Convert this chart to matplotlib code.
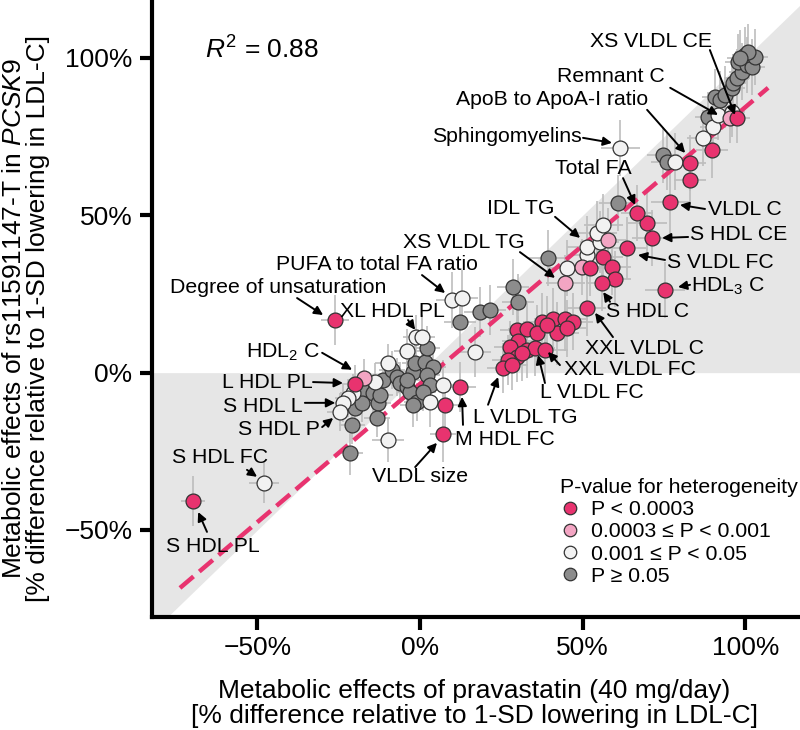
import numpy as np
import matplotlib.pyplot as plt
from matplotlib.lines import Line2D
from matplotlib.ticker import FuncFormatter

plt.rcParams['font.family'] = ['Liberation Sans', 'DejaVu Sans']
plt.rcParams['mathtext.fontset'] = 'custom'
plt.rcParams['mathtext.rm'] = 'Liberation Sans'
plt.rcParams['mathtext.it'] = 'Liberation Sans:italic'

# ---- data (% difference relative to 1-SD lowering in LDL-C) ----
# P < 0.0003
x_pink = [-69.8, -26.1, -20.0, 12.3, 7.7, 7.1,
          37.5, 41.0, 44.6, 47.1, 29.7, 33.0, 35.9, 42.0, 45.1, 38.9,
          30.2, 27.7, 32.8, 35.4, 38.4, 29.7, 27.1, 25.6, 28.2, 31.3, 51.2,
          56.3, 59.0, 59.9, 55.9, 52.3, 63.6, 71.3, 69.8, 66.7, 76.9, 75.3,
          83.0, 83.0, 89.8, 97.4]
y_pink = [-40.8, 16.8, -3.6, -4.5, -10.2, -19.4,
          16.2, 17.0, 17.0, 16.2, 13.6, 13.8, 12.5, 12.5, 14.1, 15.2,
          9.9, 8.3, 7.2, 7.8, 7.2, 5.1, 4.0, 1.4, 2.4, 6.2, 20.5,
          36.8, 33.6, 29.8, 28.5, 33.3, 39.6, 42.8, 47.6, 50.7, 54.2, 26.3,
          66.6, 61.2, 70.8, 80.9]
xerr_pink = [3.8, 4.3, 4.0, 5.0, 5.0, 4.0,
             6, 6, 7, 6, 5, 6, 6, 7, 6, 6,
             5, 5, 6, 6, 7, 5, 5, 5, 5, 6, 6,
             6, 6, 5, 5, 6, 6, 6, 6, 5, 6, 6,
             5, 5, 5, 4]
yerr_pink = [7.8, 8.0, 6.0, 8.0, 8.0, 9.0,
             9, 10, 10, 9, 8, 9, 9, 10, 9, 9,
             8, 8, 9, 9, 10, 8, 8, 8, 8, 9, 9,
             10, 9, 9, 9, 9, 10, 9, 10, 9, 10, 9,
             9, 9, 9, 8]

# 0.0003 <= P < 0.001
x_lpink = [-17.2, 44.6, 49.8, 57.8, 95.3]
y_lpink = [-1.7, 28.5, 33.6, 42.2, 80.9]
xerr_lpink = [4, 6, 6, 6, 4]
yerr_lpink = [6, 9, 9, 10, 8]

# 0.001 <= P < 0.05
x_white = [-48.0, -9.8, -13.8, -20.6, -22.1, -23.7, -24.6, -9.8, -4.0, -1.2,
           0.6, 7.1, 3.1, 9.8, 12.9, 16.9, 45.2, 51.3, 51.3, 55.3,
           54.4, 56.3, 61.5, 78.4, 87.0, 90.1, 91.6, 95.9]
y_white = [-35.0, 3.1, -2.9, -6.4, -8.0, -9.6, -12.5, -21.4, 6.9, 11.3,
           11.3, -3.9, -9.3, 23.1, 23.7, 6.6, 33.3, 37.4, 39.9, 41.5,
           44.4, 46.9, 71.4, 67.0, 74.6, 78.1, 81.9, 82.8]
xerr_white = [4.5, 4, 4, 4, 4, 4, 4, 5, 4, 4,
              4, 5, 5, 5, 5, 5, 6, 6, 6, 6,
              6, 6, 6, 5, 5, 4, 4, 4]
yerr_white = [6.5, 6, 6, 6, 6, 6, 6, 7, 7, 7,
              7, 8, 8, 9, 9, 8, 9, 9, 10, 10,
              10, 10, 9, 9, 9, 8, 8, 8]

# P >= 0.05
x_gray = [-21.5, -20.9, -17.8, -14.4, -20.0, -17.8, -12.9, -13.2, -12.3, -11.4,
          -8.6, -7.1, -6.1, -4.0, -3.1, -0.9, -2.2, -1.5, 1.5, 4.0,
          2.2, 3.1, 2.2, -4.0, 0.9, -2.2, 12.3, 18.4, 21.5, 28.6,
          30.1, 39.3, 60.9, 74.7, 75.9, 88.5, 90.7, 92.2, 93.8, 95.9,
          96.2, 97.4, 99.0, 97.8, 100.5, 102.1, 99.9, 103.0, 100.8, 98.4]
y_gray = [-25.5, -16.6, -5.5, -6.4, -11.2, -9.6, -9.6, -14.4, -7.1, -2.3,
          0.9, -1.3, -3.3, -4.5, -6.1, -9.3, 0.2, 3.1, 3.4, 1.8,
          -0.7, -3.9, 7.9, -2.3, -6.1, -10.2, 16.1, 19.3, 19.9, 27.2,
          22.4, 36.4, 53.9, 69.2, 67.0, 81.2, 87.6, 86.7, 88.3, 90.5,
          92.1, 93.7, 95.6, 98.7, 97.8, 97.1, 100.9, 100.3, 101.9, 100.0]
xerr_gray = [4, 4, 4, 4, 4, 4, 4, 4, 4, 4,
             4, 4, 4, 4, 4, 4, 4, 4, 4, 4,
             4, 4, 4, 4, 4, 4, 5, 5, 5, 5,
             5, 6, 6, 5, 5, 4, 4, 4, 4, 4,
             4, 4, 4, 4, 4, 4, 4, 4, 4, 4]
yerr_gray = [7, 6, 6, 6, 6, 6, 6, 6, 6, 6,
             6, 6, 6, 6, 6, 6, 6, 6, 6, 6,
             6, 6, 7, 6, 6, 7, 8, 8, 8, 9,
             9, 9, 9, 9, 9, 8, 9, 9, 9, 9,
             9, 9, 9, 9, 9, 9, 9, 9, 9, 9]

# regression line
fit_slope = 0.879
fit_intercept = -3.55
fit_range = [-73.8, 107.0]

legend_labels = ['P < 0.0003', '0.0003 \u2264 P < 0.001', '0.001 \u2264 P < 0.05', 'P \u2265 0.05']

# label, text (x, y), arrow tail (x, y), arrow tip (x, y)
labels = [
    ('XS VLDL CE', (71.0, 105.1), (89.1, 102.5), (96.8, 81.9)),
    ('Remnant C', (58.7, 94.0), (76.9, 90.5), (91.6, 81.9)),
    ('ApoB to ApoA-I ratio', (40.6, 86.7), (69.8, 83.5), (81.5, 69.8)),
    ('Sphingomyelins', (26.7, 74.9), (50.1, 74.6), (59.0, 73.0)),
    ('Total FA', (53.2, 65.0), (62.4, 61.8), (66.1, 53.3)),
    ('VLDL C', (99.9, 51.7), (87.6, 52.0), (79.9, 53.3)),
    ('S HDL CE', (97.8, 43.8), (82.4, 43.1), (74.4, 42.8)),
    ('S VLDL FC', (92.2, 34.9), (75.3, 35.8), (67.0, 37.4)),
    ('HDL$_\\mathregular{3}$ C', (94.7, 27.3), (83.0, 27.9), (79.3, 27.2)),
    ('S HDL C', (69.8, 19.3), (58.4, 22.5), (56.3, 25.6)),
    ('XXL VLDL C', (68.9, 7.8), (59.3, 11.3), (53.8, 19.0)),
    ('XXL VLDL FC', (64.6, 0.9), (43.0, 2.4), (39.3, 6.6)),
    ('L VLDL FC', (52.9, -6.4), (38.4, -3.3), (36.3, 5.6)),
    ('L VLDL TG', (32.3, -14.1), (20.9, -10.2), (24.0, -1.4)),
    ('M HDL FC', (26.1, -21.4), (13.2, -16.6), (12.9, -7.7)),
    ('VLDL size', (0.0, -33.1), (-1.5, -30.0), (5.2, -22.3)),
    ('IDL TG', (31.0, 52.3), (41.5, 49.5), (49.2, 42.8)),
    ('XS VLDL TG', (13.5, 41.2), (30.7, 38.3), (41.5, 30.1)),
    ('PUFA to total FA ratio', (-13.4, 34.2), (0.6, 31.0), (7.7, 25.3)),
    ('Degree of unsaturation', (-43.7, 26.9), (-37.8, 23.7), (-29.8, 18.3)),
    ('XL HDL PL', (-8.6, 19.3), (-3.7, 16.7), (-1.5, 13.6)),
    ('HDL$_\\mathregular{2}$ C', (-42.1, 6.6), (-30.1, 6.3), (-20.9, 0.9)),
    ('L HDL PL', (-47.0, -3.1), (-32.9, -3.0), (-23.7, -3.3)),
    ('S HDL L', (-48.3, -10.9), (-35.4, -9.6), (-26.1, -9.6)),
    ('S HDL P', (-43.3, -18.2), (-30.1, -17.3), (-26.7, -14.4)),
    ('S HDL FC', (-61.5, -27.1), (-53.2, -30.9), (-50.1, -33.1)),
    ('S HDL PL', (-63.6, -55.4), (-65.5, -50.6), (-68.2, -44.3)),
]

pink = '#e8336f'
lpink = '#f3a5c3'
white = '#f2f2f2'
gray = '#8c8c8c'

fig = plt.figure(figsize=(8, 7.3), dpi=100)
ax = fig.add_axes([0.19, 0.155, 0.81, 0.845])
ax.set_xlim(-82.4, 116.8)
ax.set_ylim(-77.6, 118.4)

xs = np.array([-90, 0, 130])
ax.fill_between(xs, 0, xs, color='#e6e6e6', lw=0, zorder=0)

groups = [
    (x_gray, y_gray, xerr_gray, yerr_gray, gray),
    (x_white, y_white, xerr_white, yerr_white, white),
    (x_lpink, y_lpink, xerr_lpink, yerr_lpink, lpink),
    (x_pink, y_pink, xerr_pink, yerr_pink, pink),
]
for gx, gy, gxe, gye, c in groups:
    ax.errorbar(gx, gy, xerr=gxe, yerr=gye, fmt='none', ecolor='#bdbdbd',
                elinewidth=1.2, capsize=0, zorder=1)
for gx, gy, gxe, gye, c in groups:
    ax.scatter(gx, gy, s=115, color=c, edgecolor='#333333', linewidth=0.9, zorder=3)

fx = np.array(fit_range)
ax.plot(fx, fit_slope * fx + fit_intercept, color=pink, lw=3.2, dashes=(4, 1.7), zorder=2)

for txt, tpos, tail, tip in labels:
    ax.text(tpos[0], tpos[1], txt, fontsize=15.3, ha='center', va='center', zorder=5)
    ax.annotate('', xy=tip, xytext=tail,
                arrowprops=dict(arrowstyle='-|>', color='black', lw=1.4,
                                mutation_scale=13, shrinkA=0, shrinkB=0),
                zorder=5)

ax.text(-66, 102.5, '$R^2$ = 0.88', fontsize=19, va='center')

for s in ['top', 'right']:
    ax.spines[s].set_visible(False)
for s in ['left', 'bottom']:
    ax.spines[s].set_linewidth(3)
ax.set_xticks([-50, 0, 50, 100])
ax.set_yticks([-50, 0, 50, 100])
fmt = FuncFormatter(lambda v, p: f'{int(v)}%'.replace('-', '\u2212'))
ax.xaxis.set_major_formatter(fmt)
ax.yaxis.set_major_formatter(fmt)
ax.tick_params(direction='out', length=9, width=3, labelsize=19, pad=5)

handles = [Line2D([], [], marker='o', ls='none', markerfacecolor=c,
                  markeredgecolor='#333333', markersize=9, markeredgewidth=0.9)
           for c in [pink, lpink, white, gray]]
ax.legend(handles, legend_labels, title='P-value for heterogeneity',
          loc='upper left', bbox_to_anchor=(0.629, 0.225), frameon=False,
          fontsize=15.3, title_fontsize=15.3, handletextpad=0.5,
          labelspacing=0.15, borderpad=0, borderaxespad=0, handlelength=1.0,
          alignment='left')

fig.text(0.033, 0.564,
         'Metabolic effects of rs11591147-T in $\\mathit{PCSK9}$\n'
         '[% difference relative to 1-SD lowering in LDL-C]',
         rotation=90, ha='center', va='center', fontsize=19, linespacing=1.0)
fig.text(0.593, 0.036,
         'Metabolic effects of pravastatin (40 mg/day)\n'
         '[% difference relative to 1-SD lowering in LDL-C]',
         ha='center', va='center', fontsize=19, linespacing=1.05)

fig.savefig('out.png', dpi=100)
